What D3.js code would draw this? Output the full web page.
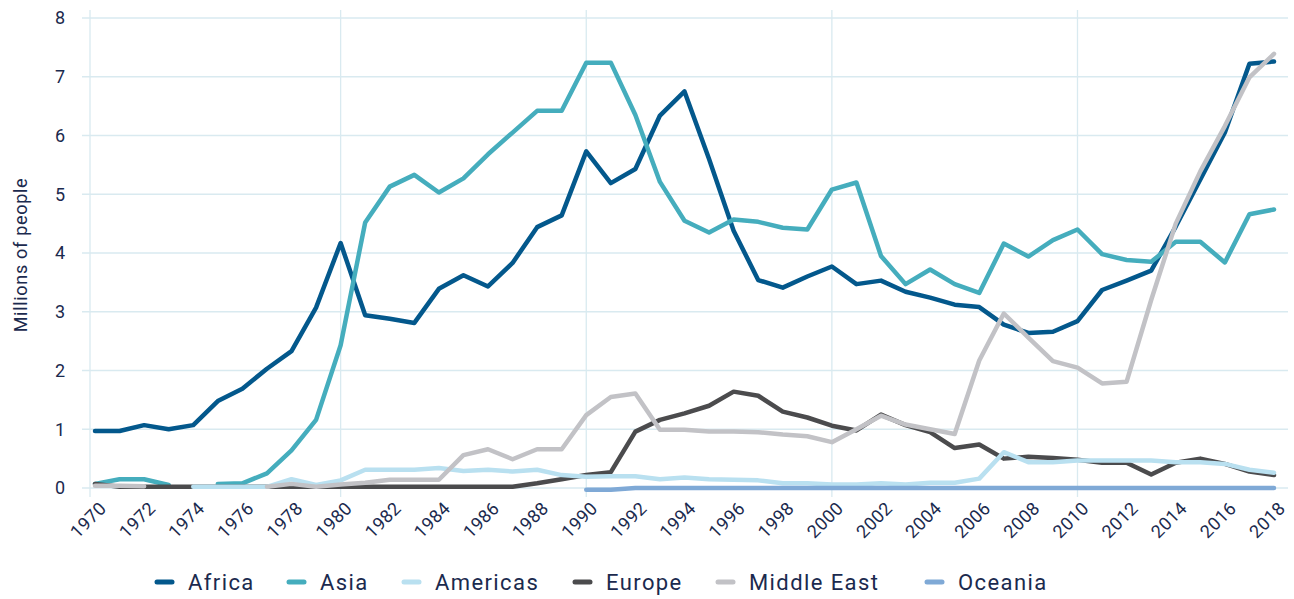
<!DOCTYPE html>
<html>
<head>
<meta charset="utf-8">
<script src="https://cdn.jsdelivr.net/npm/d3@7"></script>
<style>
  body { margin: 0; background: #fff; }
  text { font-family: Roboto, "Noto Sans", sans-serif; fill: #1b2a4e; }
</style>
</head>
<body>
<svg id="chart" width="1294" height="599"></svg>
<script>
const years = d3.range(1970, 2019);
const yTicks = [0, 1, 2, 3, 4, 5, 6, 7, 8];
const xTickYears = d3.range(1970, 2019, 2);
const gridYears = [1980, 1990, 2000, 2010];

// values in millions of people, null = no data
const africa = [0.97,0.97,1.07,1.0,1.07,1.48,1.69,2.03,2.33,3.07,
  4.17,2.94,2.88,2.81,3.39,3.62,3.43,3.83,4.44,4.64,
  5.73,5.19,5.43,6.34,6.75,5.6,4.38,3.54,3.41,3.6,
  3.77,3.47,3.53,3.34,3.24,3.12,3.08,2.78,2.64,2.66,
  2.84,3.37,3.53,3.7,4.45,5.25,6.05,7.22,7.26];
const asia = [0.07,0.15,0.15,0.05,null,0.07,0.08,0.25,0.64,1.16,
  2.43,4.52,5.13,5.33,5.03,5.27,5.68,6.05,6.42,6.42,
  7.24,7.24,6.35,5.21,4.55,4.35,4.57,4.53,4.43,4.4,
  5.08,5.2,3.95,3.47,3.72,3.47,3.32,4.16,3.94,4.22,
  4.4,3.98,3.88,3.85,4.19,4.19,3.84,4.66,4.74];
const americas = [null,null,null,null,0.02,0.02,0.02,0.02,0.15,0.05,
  0.13,0.31,0.31,0.31,0.34,0.29,0.31,0.28,0.31,0.22,
  0.19,0.2,0.2,0.15,0.18,0.15,0.14,0.13,0.08,0.08,
  0.06,0.06,0.08,0.06,0.09,0.09,0.16,0.61,0.44,0.44,
  0.47,0.47,0.47,0.47,0.44,0.44,0.41,0.31,0.26];
const europe = [0.07,0.02,0.02,0.02,0.02,0.02,0.02,0.02,0.02,0.02,
  0.02,0.02,0.02,0.02,0.02,0.02,0.02,0.02,0.08,0.15,
  0.22,0.27,0.96,1.16,1.27,1.4,1.64,1.57,1.3,1.2,
  1.06,0.98,1.25,1.07,0.95,0.68,0.74,0.5,0.53,0.51,
  0.48,0.43,0.43,0.23,0.43,0.5,0.41,0.28,0.22];
const middleEast = [0.04,0.04,0.03,null,null,null,null,0.02,0.07,0.02,
  0.06,0.09,0.14,0.14,0.14,0.56,0.66,0.49,0.66,0.66,
  1.24,1.55,1.61,0.99,0.99,0.96,0.96,0.95,0.91,0.88,
  0.78,1.0,1.23,1.08,1.0,0.92,2.17,2.97,2.56,2.16,
  2.05,1.78,1.81,3.2,4.5,5.39,6.16,6.99,7.39];
const oceania = [null,null,null,null,null,null,null,null,null,null,
  null,null,null,null,null,null,null,null,null,null,
  -0.03,-0.03,0,0,0,0,0,0,0,0,
  0,0,0,0,0,0,0,0,0,0,
  0,0,0,0,0,0,0,0,0];

const seriesNames = ["Africa", "Asia", "Americas", "Europe", "Middle East", "Oceania"];
const seriesValues = [africa, asia, americas, europe, middleEast, oceania];
const seriesColors = ["#03588c", "#45adbd", "#b9e0f0", "#4b4b4d", "#c2c2c6", "#7fa9d6"];
// drawing order, bottom to top
const drawOrder = [0, 1, 3, 2, 4, 5];

const svg = d3.select("#chart");

const x = d3.scaleLinear().domain([1970, 2018]).range([95, 1274]);
const y = d3.scaleLinear().domain([0, 8]).range([488, 18]);

const plotLeft = 90, plotRight = 1288, plotTop = 10;

// horizontal gridlines
svg.append("g").selectAll("line").data(yTicks).enter().append("line")
  .attr("x1", plotLeft - 8).attr("x2", plotRight)
  .attr("y1", d => y(d)).attr("y2", d => y(d))
  .attr("stroke", "#d9eaf0").attr("stroke-width", 1.3);

// vertical gridlines (axis edge + every decade)
svg.append("line")
  .attr("x1", plotLeft).attr("x2", plotLeft)
  .attr("y1", plotTop).attr("y2", y(0) + 9)
  .attr("stroke", "#d9eaf0").attr("stroke-width", 1.3);
svg.append("g").selectAll("line").data(gridYears).enter().append("line")
  .attr("x1", d => x(d)).attr("x2", d => x(d))
  .attr("y1", plotTop).attr("y2", y(0) + 9)
  .attr("stroke", "#d9eaf0").attr("stroke-width", 1.3);

// y axis labels
svg.append("g").selectAll("text").data(yTicks).enter().append("text")
  .attr("x", 65).attr("y", d => y(d))
  .attr("dy", "0.35em")
  .attr("text-anchor", "end")
  .style("font-size", "18px")
  .text(d => d);

svg.append("text")
  .attr("transform", `translate(27, ${y(4) + 2}) rotate(-90)`)
  .attr("text-anchor", "middle")
  .style("font-size", "18px")
  .style("letter-spacing", "0.7px")
  .text("Millions of people");

// x axis labels, rotated
svg.append("g").selectAll("text").data(xTickYears).enter().append("text")
  .attr("transform", d => `translate(${x(d) + 8}, ${y(0) + 17}) rotate(-45)`)
  .attr("text-anchor", "end")
  .attr("dy", "0.35em")
  .style("font-size", "18px")
  .style("letter-spacing", "0.4px")
  .text(d => d);

// lines
const line = d3.line()
  .defined(d => d[1] !== null)
  .x(d => x(d[0]))
  .y(d => y(d[1]));

svg.append("g").selectAll("path").data(drawOrder).enter().append("path")
  .attr("d", i => line(years.map((yr, k) => [yr, seriesValues[i][k]])))
  .attr("fill", "none")
  .attr("stroke", i => seriesColors[i])
  .attr("stroke-width", 4.5)
  .attr("stroke-linejoin", "round")
  .attr("stroke-linecap", "round");

// legend
const legendX = [155, 287, 402, 573, 716, 925];
const legendY = 582;
const leg = svg.append("g").selectAll("g").data(seriesNames).enter().append("g")
  .attr("transform", (d, i) => `translate(${legendX[i]}, ${legendY})`);
leg.append("line")
  .attr("x1", 2).attr("x2", 17)
  .attr("stroke", (d, i) => seriesColors[i])
  .attr("stroke-width", 5)
  .attr("stroke-linecap", "round");
leg.append("text")
  .attr("x", 33).attr("dy", "0.36em")
  .style("font-size", "22px")
  .style("letter-spacing", "1.4px")
  .text(d => d);
</script>
</body>
</html>
